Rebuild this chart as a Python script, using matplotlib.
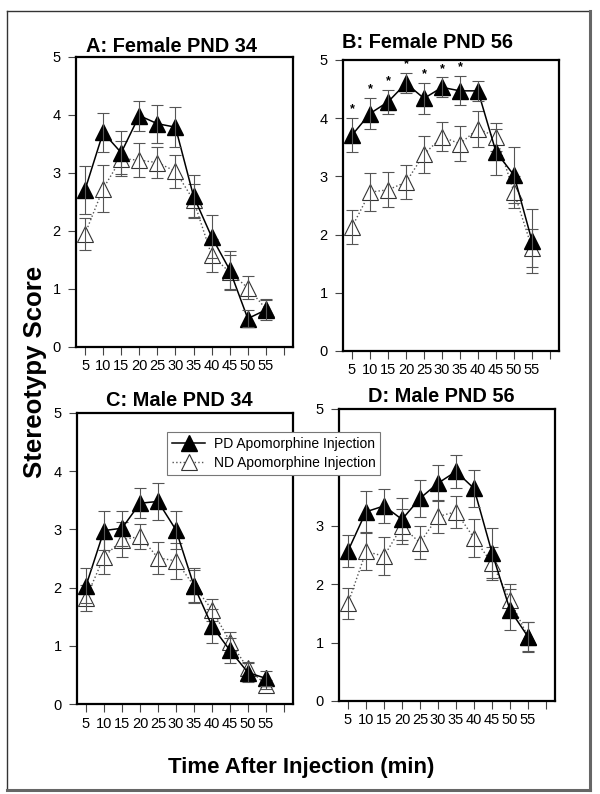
import matplotlib
matplotlib.use("Agg")
import matplotlib.pyplot as plt
from matplotlib.lines import Line2D

plt.rcParams['font.family'] = ['Liberation Sans Narrow', 'Liberation Sans', 'DejaVu Sans']

# time points (min)
times = [5, 10, 15, 20, 25, 30, 35, 40, 45, 50, 55]
xtick_pos = [5, 10, 15, 20, 25, 30, 35, 40, 45, 50, 55, 60]
xtick_lab = ['5', '10', '15', '20', '25', '30', '35', '40', '45', '50', '55', '']
ytick_pos = [0, 1, 2, 3, 4, 5]

titles = ['A: Female PND 34', 'B: Female PND 56', 'C: Male PND 34', 'D: Male PND 56']

# PD = PD apomorphine injection, ND = ND apomorphine injection
a_pd = [2.71, 3.70, 3.35, 3.99, 3.85, 3.79, 2.60, 1.90, 1.33, 0.49, 0.64]
a_pd_err = [0.41, 0.33, 0.37, 0.26, 0.33, 0.34, 0.37, 0.37, 0.33, 0.15, 0.18]
a_nd = [1.95, 2.73, 3.25, 3.22, 3.18, 3.03, 2.53, 1.58, 1.29, 1.02, 0.66]
a_nd_err = [0.27, 0.40, 0.30, 0.29, 0.26, 0.28, 0.28, 0.28, 0.30, 0.20, 0.15]

b_pd = [3.71, 4.08, 4.28, 4.60, 4.34, 4.53, 4.47, 4.47, 3.42, 3.02, 1.89]
b_pd_err = [0.29, 0.26, 0.20, 0.17, 0.27, 0.17, 0.25, 0.17, 0.40, 0.48, 0.55]
b_nd = [2.13, 2.73, 2.77, 2.90, 3.38, 3.68, 3.56, 3.82, 3.68, 2.73, 1.77]
b_nd_err = [0.30, 0.32, 0.30, 0.29, 0.32, 0.25, 0.30, 0.31, 0.24, 0.28, 0.33]
b_stars = [5, 10, 15, 20, 25, 30, 35]

c_pd = [2.03, 2.98, 3.02, 3.45, 3.48, 2.99, 2.03, 1.34, 0.92, 0.54, 0.44]
c_pd_err = [0.30, 0.33, 0.30, 0.26, 0.31, 0.33, 0.30, 0.30, 0.22, 0.16, 0.13]
c_nd = [1.82, 2.53, 2.82, 2.88, 2.51, 2.46, 2.03, 1.62, 1.07, 0.61, 0.33]
c_nd_err = [0.22, 0.30, 0.30, 0.21, 0.27, 0.31, 0.28, 0.19, 0.17, 0.12, 0.08]

d_pd = [2.57, 3.24, 3.34, 3.11, 3.47, 3.73, 3.93, 3.64, 2.54, 1.56, 1.10]
d_pd_err = [0.28, 0.35, 0.29, 0.36, 0.32, 0.31, 0.29, 0.31, 0.43, 0.35, 0.26]
d_nd = [1.67, 2.56, 2.48, 2.99, 2.71, 3.16, 3.24, 2.79, 2.36, 1.73, 1.10]
d_nd_err = [0.26, 0.32, 0.33, 0.30, 0.28, 0.28, 0.27, 0.33, 0.28, 0.27, 0.25]

W, H = 600, 794
fig = plt.figure(figsize=(6, 7.94), dpi=100)

def px_box(l, t, r, b):
    return [l / W, 1 - b / H, (r - l) / W, (b - t) / H]

# axes boxes in pixels (left, top, right, bottom)
boxes = [(76, 57, 293, 347), (343, 60, 559, 351), (77, 413, 293, 704), (339, 409, 555, 701)]
title_pos = [(172, 46), (428, 43), (179, 400), (441, 396)]
data = [(a_pd, a_pd_err, a_nd, a_nd_err), (b_pd, b_pd_err, b_nd, b_nd_err),
        (c_pd, c_pd_err, c_nd, c_nd_err), (d_pd, d_pd_err, d_nd, d_nd_err)]

err_col = '#555555'
for i in range(4):
    ax = fig.add_axes(px_box(*boxes[i]))
    pd, pd_err, nd, nd_err = data[i]
    ax.plot(times, nd, ls=':', color='#555555', lw=1, marker='^', ms=11,
            mfc='white', mec='#333333', mew=0.8, zorder=2)
    ax.errorbar(times, nd, yerr=nd_err, fmt='none', ecolor=err_col,
                elinewidth=0.8, capsize=4, capthick=0.8, zorder=3)
    ax.plot(times, pd, ls='-', color='black', lw=1.1, marker='^', ms=11,
            mfc='black', mec='black', zorder=4)
    ax.errorbar(times, pd, yerr=pd_err, fmt='none', ecolor=err_col,
                elinewidth=0.8, capsize=4, capthick=0.8, zorder=5)
    if i == 1:
        for t in b_stars:
            k = times.index(t)
            ax.annotate('*', (t, pd[k] + pd_err[k]), xytext=(0, 2),
                        textcoords='offset points', ha='center', va='bottom',
                        fontsize=9, fontweight='bold')
    ax.set_xlim(2.5, 62.5)
    ax.set_ylim(0, 5)
    ax.set_xticks(xtick_pos)
    ax.set_xticklabels(xtick_lab)
    ax.set_yticks(ytick_pos)
    if i == 3:
        # the "4" of panel D sits under the legend
        ax.set_yticklabels(['0', '1', '2', '3', '', '5'])
    ax.tick_params(direction='out', length=6, width=0.8, color='#444444',
                   labelsize=10.5, pad=3)
    ax.tick_params(axis='y', pad=5)
    for s in ax.spines.values():
        s.set_linewidth(1.6)
    fig.text(title_pos[i][0] / W, 1 - title_pos[i][1] / H, titles[i],
             ha='center', va='center', fontsize=14.4, fontweight='bold',
             family=['Liberation Sans', 'DejaVu Sans'])

fig.text(35 / W, 1 - 372 / H, 'Stereotypy Score', rotation=90, ha='center',
         va='center', fontsize=18.5, fontweight='bold', family=['Liberation Sans', 'DejaVu Sans'])
fig.text(301 / W, 1 - 767 / H, 'Time After Injection (min)', ha='center',
         va='center', fontsize=16, fontweight='bold', family=['Liberation Sans', 'DejaVu Sans'])

# legend
h_pd = Line2D([], [], ls='-', color='black', lw=1.1, marker='^', ms=12, mfc='black', mec='black')
h_nd = Line2D([], [], ls=':', color='#555555', lw=1, marker='^', ms=12, mfc='white',
              mec='#333333', mew=0.8)
leg = fig.legend([h_pd, h_nd], ['PD Apomorphine Injection', 'ND Apomorphine Injection'],
                 loc='upper left', bbox_to_anchor=(167 / W, 1 - 432 / H), borderaxespad=0,
                 fontsize=10, numpoints=1, handlelength=2.4, handletextpad=0.6,
                 borderpad=0.35, labelspacing=0.35, fancybox=False, framealpha=1)
leg.get_frame().set_edgecolor('#777777')
leg.get_frame().set_linewidth(0.8)

# outer frame
fig.add_artist(Line2D([7 / W, 7 / W], [1 - 11 / H, 1 - 790 / H], color='#333333', lw=1))
fig.add_artist(Line2D([7 / W, 590 / W], [1 - 11 / H, 1 - 11 / H], color='#333333', lw=1))
fig.add_artist(Line2D([590 / W, 590 / W], [1 - 11 / H, 1 - 790 / H], color='#666666', lw=2.2))
fig.add_artist(Line2D([7 / W, 590 / W], [1 - 790 / H, 1 - 790 / H], color='#666666', lw=2.2))

fig.savefig('out.png', dpi=100)
